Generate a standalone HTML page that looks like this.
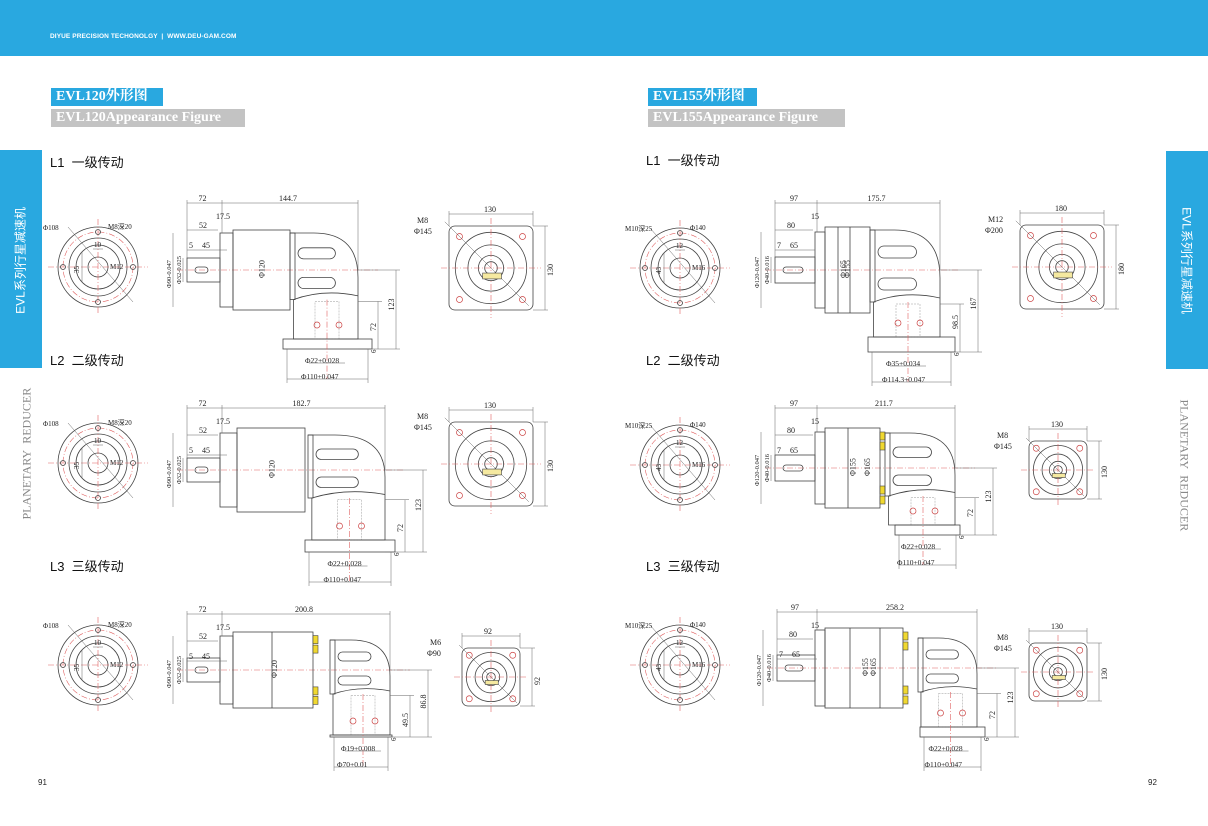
<!DOCTYPE html>
<html><head><meta charset="utf-8">
<style>
body{margin:0;width:1208px;height:826px;position:relative;background:#fff;overflow:hidden;font-family:"Liberation Sans","Noto Sans CJK SC",sans-serif}
.hdr{position:absolute;left:0;top:0;width:1208px;height:56px;background:#29a8e0}
.hdr span{position:absolute;top:33px;left:50px;color:#fff;font-size:6.5px;font-weight:bold;letter-spacing:0.1px}
.t1{position:absolute;height:18px;background:#29a8e0;color:#fff;font:bold 14px "Liberation Serif","Noto Serif CJK SC",serif;line-height:18px;padding-left:5px;box-sizing:border-box}
.t2{position:absolute;height:18px;background:#c3c3c3;color:#fff;font:bold 14px "Liberation Serif",serif;line-height:18px;padding-left:5px;box-sizing:border-box}
.lbl{position:absolute;font-size:13px;color:#111}
.tab{position:absolute;background:#29a8e0;width:42px;height:218px}
.vt{position:absolute;white-space:nowrap;font-size:12px}
.pn{position:absolute;font-size:8px;color:#222}
svg{position:absolute;left:0;top:0}
</style></head><body>
<div class="hdr"><span>DIYUE PRECISION TECHONOLGY &nbsp;|&nbsp; WWW.DEU-GAM.COM</span></div>
<div class="t1" style="left:51px;top:88px;width:112px">EVL120外形图</div>
<div class="t2" style="left:51px;top:109px;width:194px">EVL120Appearance Figure</div>
<div class="t1" style="left:648px;top:88px;width:109px">EVL155外形图</div>
<div class="t2" style="left:648px;top:109px;width:197px">EVL155Appearance Figure</div>
<div class="tab" style="left:0;top:150px"></div>
<div class="tab" style="left:1166px;top:151px"></div>
<div class="vt" style="left:-40px;top:252px;width:120px;transform:rotate(-90deg);color:#fff;text-align:center">EVL系列行星减速机</div>
<div class="vt" style="left:-33px;top:452px;width:120px;transform:rotate(-90deg);color:#888;font-family:'Liberation Serif',serif;text-align:center">PLANETARY&nbsp; REDUCER</div>
<div class="vt" style="left:1127px;top:252px;width:120px;transform:rotate(90deg);color:#fff;text-align:center">EVL系列行星减速机</div>
<div class="vt" style="left:1124px;top:452px;width:120px;transform:rotate(90deg);color:#888;font-family:'Liberation Serif',serif;text-align:center">PLANETARY&nbsp; REDUCER</div>
<div class="lbl" style="left:50px;top:152px">L1&nbsp; 一级传动</div>
<div class="lbl" style="left:50px;top:350px">L2&nbsp; 二级传动</div>
<div class="lbl" style="left:50px;top:556px">L3&nbsp; 三级传动</div>
<div class="lbl" style="left:646px;top:150px">L1&nbsp; 一级传动</div>
<div class="lbl" style="left:646px;top:350px">L2&nbsp; 二级传动</div>
<div class="lbl" style="left:646px;top:556px">L3&nbsp; 三级传动</div>
<div class="pn" style="left:38px;top:778px">91</div>
<div class="pn" style="left:1148px;top:778px">92</div>
<svg id="d" width="1208" height="826" font-family="Liberation Serif, Noto Sans CJK SC, serif" font-size="8"></svg>
<script>
var s='';
var K='stroke="#444" fill="none" stroke-width="0.8"';
var R='stroke="#e06060" fill="none" stroke-width="0.6" stroke-dasharray="6,2,1,2"';
var G='stroke="#666" fill="none" stroke-width="0.5"';
function L(x1,y1,x2,y2,a){s+='<line x1="'+x1+'" y1="'+y1+'" x2="'+x2+'" y2="'+y2+'" '+(a||G)+'/>';}
function C(x,y,r,a){s+='<circle cx="'+x+'" cy="'+y+'" r="'+r+'" '+(a||K)+'/>';}
function B(x,y,w,h,a,rx){s+='<rect x="'+x+'" y="'+y+'" width="'+w+'" height="'+h+'" rx="'+(rx||0)+'" '+(a||K)+'/>';}
function T(x,y,t,rot,fs){s+='<text x="'+x+'" y="'+y+'" font-size="'+(fs||8)+'" fill="#222"'+(rot?' transform="rotate(-90 '+x+' '+y+')"':'')+'>'+t+'</text>';}
function front(x,y,k,lab){
 C(x,y,40*k);C(x,y,35*k,R);C(x,y,29*k);C(x,y,22*k);C(x,y,10*k);
 L(x-50*k,y,x+50*k,y,R);L(x,y-48*k,x,y+48*k,R);
 [[0,-35],[0,35],[-35,0],[35,0]].forEach(function(p){C(x+p[0]*k,y+p[1]*k,2.5*k);});
 L(x-30*k,y-40*k,x+35*k,y+35*k,G);L(x-16*k,y-15*k,x-16*k,y+15*k);L(x-5*k,y-18*k,x+5*k,y-18*k);
 T(x-40*k-15,y-37*k,lab[0],0,7);T(x+10*k,y-38*k,lab[1],0,7);T(x-4*k,y-20*k,lab[2],0,7);T(x+12*k,y+2,lab[3],0,7);T(x-19*k,y+6,lab[4],1,7);
}
function sq(x,y,h,lab){
 B(x-h,y-h,2*h,2*h,K,6);C(x,y,h*0.85);C(x,y,h*0.55);C(x,y,h*0.3);C(x,y,h*0.15);
 L(x-h-8,y,x+h+8,y,R);L(x,y-h-8,x,y+h+8,R);
 [[-1,-1],[1,-1],[-1,1],[1,1]].forEach(function(p){C(x+p[0]*h*0.75,y+p[1]*h*0.75,3,'stroke="#c44" fill="none" stroke-width="0.7"');});
 L(x-h*1.1,y-h*1.1,x+h*0.9,y+h*0.9);
 B(x-h*0.2,y+h*0.12,h*0.45,h*0.14,'stroke="#444" fill="#f5e9a0" stroke-width="0.6"');
 L(x-h,y-h-12,x+h,y-h-12);L(x-h,y-h-15,x-h,y-h);L(x+h,y-h-15,x+h,y-h);
 L(x+h+12,y-h,x+h+12,y+h);L(x+h,y-h,x+h+15,y-h);L(x+h,y+h,x+h+15,y+h);
 T(x-7,y-h-14,lab[0]);T(x+h+20,y+8,lab[0],1);T(x-h-32,y-h-3,lab[1]);T(x-h-35,y-h+8,lab[2]);
}
function side(o){
 var cy=o.cy;
 L(o.sx-10,cy,o.ex+20,cy,R);
 B(o.sx,cy-o.sh,o.fx-o.sx,2*o.sh);B(o.sx+8,cy-3,o.fx-o.sx-20,6,K,3);
 B(o.fx,cy-o.fh,o.bx-o.fx,2*o.fh);
 B(o.bx,cy-o.bh,o.be-o.bx,2*o.bh);
 if(o.ring)L(o.ring,cy-o.bh,o.ring,cy+o.bh,K);
 if(o.ring2)L(o.ring2,cy-o.bh,o.ring2,cy+o.bh,K);
 if(o.tabs){[-0.8,-0.55,0.55,0.8].forEach(function(f){B(o.be,cy+f*o.bh-4,5,8,'stroke="#444" fill="#f0d830" stroke-width="0.6"');});}
 var e0=o.e0,eh=o.eh,ew=o.ex-e0,bt=o.ebot;
 B(e0,cy-eh,5,2*eh*0.9);
 s+='<path d="M'+e0+','+(cy-eh)+' L'+(e0+ew*0.35)+','+(cy-eh)+' Q'+o.ex+','+(cy-eh)+' '+o.ex+','+(cy+eh*0.2)+' L'+o.ex+','+bt+' L'+(e0+ew*0.05)+','+bt+' L'+(e0+ew*0.05)+','+(cy+eh*0.8)+' Q'+(e0+ew*0.5)+','+(cy+eh*0.5)+' '+o.ex+','+(cy+eh*0.7)+'" '+K+'/>';
 B(e0+8,cy-eh*0.6,ew*0.55,eh*0.3,K,eh*0.15);B(e0+8,cy+eh*0.2,ew*0.55,eh*0.3,K,eh*0.15);
 var mx=(e0+o.ex)/2+3;
 B(mx-12,cy+eh*0.85,24,bt-cy-eh*0.85,'stroke="#999" fill="none" stroke-width="0.5" stroke-dasharray="2,1"');
 C(mx-10,bt-14,3,'stroke="#c44" fill="none" stroke-width="0.7"');C(mx+12,bt-14,3,'stroke="#c44" fill="none" stroke-width="0.7"');
 B(o.px1,bt,o.px2-o.px1,o.ph);
 L(mx,cy+eh*0.8,mx,bt+o.ph+30,R);
 var top=cy-o.top;
 L(o.sx,top,o.fx+2,top);L(o.fx+2,top,o.ex,top);L(o.sx,top-3,o.sx,cy-o.sh);L(o.fx+2,top-3,o.fx+2,cy-o.fh);L(o.ex,top-3,o.ex,cy);
 T((o.sx+o.fx)/2-5,top-2,o.d[0]);T((o.fx+o.ex)/2-10,top-2,o.d[1]);
 L(o.sx,top+27,o.fx-2,top+27);T(o.sx+12,top+25,o.d[2]);T(o.fx-4,top+16,o.d[3]);
 L(o.sx,top+47,o.sx+40,top+47);T(o.sx+2,top+45,o.d[4]);T(o.sx+15,top+45,o.d[5]);
 L(o.sx-14,cy-o.fh,o.sx-14,cy+o.fh);L(o.sx-4,cy-o.sh,o.sx-4,cy+o.sh);
 T(o.sx-16,cy+18,o.d[6],1,6.5);T(o.sx-6,cy+14,o.d[7],1,6.5);
 T(o.bx+(o.be-o.bx)*0.55,cy+8,o.d[8],1);if(o.d[9])T(o.ring2?o.ring2-4:o.be-10,cy+8,o.d[9],1);
 var rx=o.ex+38;L(o.ex,cy,rx+4,cy);L(rx,cy,rx,bt+o.ph);L(o.ex,bt+o.ph,rx+4,bt+o.ph);T(rx-2,cy+(bt-cy)/2+6,o.d[10],1);
 L(rx-18,cy+eh*0.85,rx-18,bt+o.ph);L(o.ex,cy+eh*0.85,rx-14,cy+eh*0.85);T(rx-20,bt-8,o.d[11],1);
 T(o.px2+4,bt+o.ph+4,'6',1,7);
 var by=bt+o.ph+14;L(mx-18,by,mx+18,by);T(mx-22,by,o.d[12],0,7.5);
 L(o.px1+4,by+16,o.px2-4,by+16);T(mx-26,by+16,o.d[13],0,7.5);
 L(o.px1+4,bt+o.ph,o.px1+4,by+20);L(o.px2-4,bt+o.ph,o.px2-4,by+20);
}
var LA=['Φ108','M8深20','10','M12','35'],RA=['M10深25','Φ140','12','M16','43'];
front(98,267,1,LA);front(98,463,1,LA);front(98,665,1,LA);
front(680,268,1,RA);front(680,465,1,RA);front(680,665,1,RA);
sq(491,268,42,['130','M8','Φ145']);sq(491,464,42,['130','M8','Φ145']);sq(491,677,29,['92','M6','Φ90']);
sq(1062,267,42,['180','M12','Φ200']);sq(1058,470,29,['130','M8','Φ145']);sq(1058,672,29,['130','M8','Φ145']);
var dl=['72','144.7','52','17.5','5','45','Φ90-0.047','Φ32-0.025','Φ120','','123','72','Φ22+0.028','Φ110+0.047'];
side({cy:270,top:67,sx:187,sh:12,fx:220,fh:37,bx:233,bh:40,be:290,e0:290,eh:37,ex:358,ebot:339,px1:283,px2:372,ph:10,d:dl});
var d2=dl.slice();d2[1]='182.7';
side({cy:470,top:62,sx:187,sh:12,fx:220,fh:37,bx:237,bh:42,be:305,e0:308,eh:35,ex:385,ebot:540,px1:305,px2:395,ph:12,d:d2});
var d3=dl.slice();d3[1]='200.8';d3[10]='86.8';d3[11]='49.5';d3[12]='Φ19+0.008';d3[13]='Φ70+0.01';
side({cy:670,top:56,sx:187,sh:12,fx:220,fh:34,bx:233,bh:38,be:313,ring:272,tabs:1,e0:330,eh:30,ex:390,ebot:735,px1:330,px2:392,ph:2,d:d3});
var r1=['97','175.7','80','15','7','65','Φ120-0.047','Φ40-0.016','Φ155','Φ165','167','98.5','Φ35+0.034','Φ114.3+0.047'];
side({cy:270,top:67,sx:775,sh:13,fx:815,fh:38,bx:825,bh:43,be:870,ring:838,ring2:850,e0:870,eh:40,ex:940,ebot:337,px1:868,px2:955,ph:15,d:r1});
var r2=r1.slice();r2[1]='211.7';r2[10]='123';r2[11]='72';r2[12]='Φ22+0.028';r2[13]='Φ110+0.047';
side({cy:468,top:60,sx:775,sh:13,fx:815,fh:36,bx:825,bh:40,be:880,ring:848,tabs:1,e0:885,eh:35,ex:955,ebot:525,px1:895,px2:960,ph:10,d:r2});
var r3=r2.slice();r3[1]='258.2';
side({cy:668,top:56,sx:777,sh:13,fx:815,fh:38,bx:825,bh:40,be:903,ring:850,ring2:880,tabs:1,e0:918,eh:30,ex:977,ebot:727,px1:920,px2:985,ph:10,d:r3});
document.getElementById('d').innerHTML=s;
</script>
</body></html>
